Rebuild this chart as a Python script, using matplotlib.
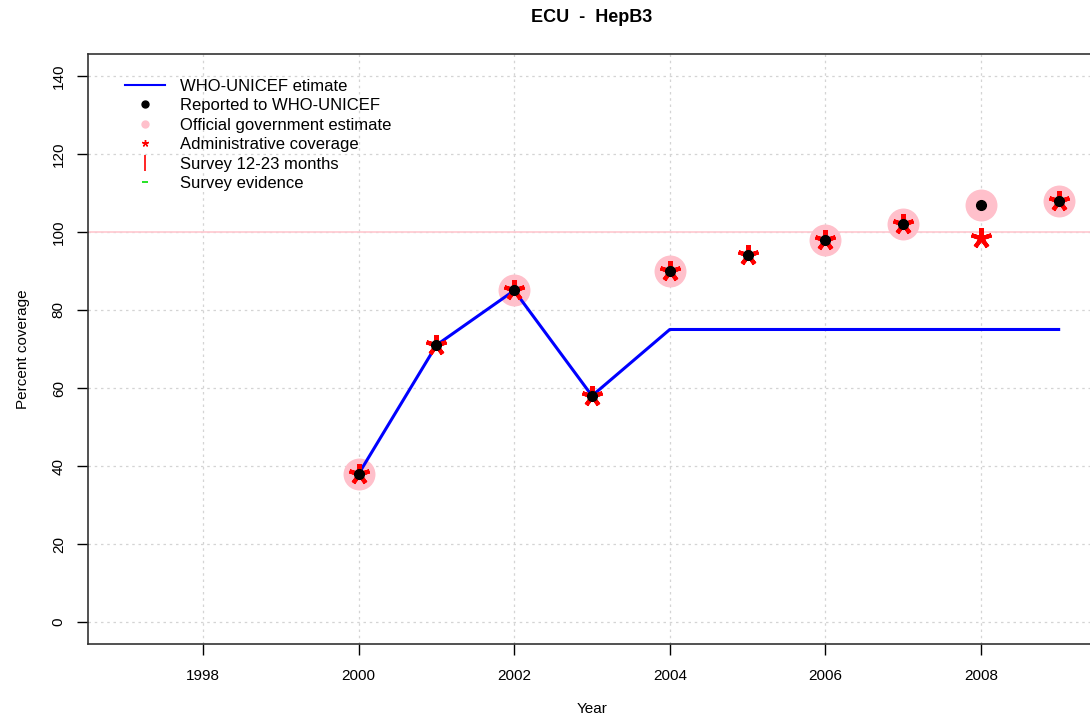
import numpy as np
import matplotlib.pyplot as plt
from matplotlib.lines import Line2D

plt.rcParams['font.family'] = ['Liberation Sans', 'DejaVu Sans']

# WHO-UNICEF estimate
wuenic_years = [2000, 2001, 2002, 2003, 2004, 2005, 2006, 2007, 2008, 2009]
wuenic = [38, 71, 85, 58, 75, 75, 75, 75, 75, 75]

# reported to WHO-UNICEF
rep_years = [2000, 2001, 2002, 2003, 2004, 2005, 2006, 2007, 2008, 2009]
reported = [38, 71, 85, 58, 90, 94, 98, 102, 107, 108]

# official government estimate
gov_years = [2000, 2002, 2004, 2006, 2007, 2008, 2009]
gov = [38, 85, 90, 98, 102, 107, 108]

# administrative coverage
adm_years = [2000, 2001, 2002, 2003, 2004, 2005, 2006, 2007, 2008, 2009]
admin = [38, 71, 85, 58, 90, 94, 98, 102, 98.5, 108]

xticks = [1998, 2000, 2002, 2004, 2006, 2008]
yticks = [0, 20, 40, 60, 80, 100, 120, 140]

fig = plt.figure(figsize=(10.9, 7.17), dpi=100)
ax = fig.add_axes([88/1090, 1 - 644/717, 1008/1090, 590/717])

ax.set_xlim(1996.52, 2009.48)
ax.set_ylim(-5.6, 145.6)

for t in xticks:
    ax.axvline(t, color='#d4d4d4', ls=(0, (2, 3)), lw=0.9, zorder=0)
for t in yticks:
    ax.axhline(t, color='#d4d4d4', ls=(0, (2, 3)), lw=0.9, zorder=0)
ax.axhline(100, color='#ffc8d0', lw=1.2, zorder=1)

ax.plot(gov_years, gov, 'o', color='pink', ms=23, mec='none', zorder=2)
ax.plot(wuenic_years, wuenic, '-', color='blue', lw=2.2, zorder=3)
ax.plot(adm_years, admin, ls='none', marker=(5, 2, 0), color='red', ms=15, mew=3, zorder=4)
ax.plot(rep_years, reported, 'o', color='black', ms=7, zorder=5)

ax.set_xticks(xticks)
ax.set_yticks(yticks)
ax.tick_params(axis='x', length=8, width=1, pad=10, labelsize=11)
ax.tick_params(axis='y', length=8, width=1, pad=8, labelsize=11, labelrotation=90)
for lab in ax.get_yticklabels():
    lab.set_va('center')
for s in ax.spines.values():
    s.set_linewidth(1.2)
    s.set_color('#333333')

fig.text(592/1090, 1 - 709/717, 'Year', ha='center', va='center', fontsize=11)
ax.set_ylabel('Percent coverage', fontsize=11, labelpad=16)
fig.text(592/1090, 1 - 18/717, 'ECU  -  HepB3', ha='center', va='center',
         fontsize=13, fontweight='bold')

handles = [
    Line2D([], [], color='blue', lw=1.5),
    Line2D([], [], ls='none', marker='o', color='black', ms=5),
    Line2D([], [], ls='none', marker='o', color='pink', ms=5),
    Line2D([], [], ls='none', marker=(5, 2, 0), color='red', ms=5, mew=1),
    Line2D([], [], ls='none', marker='|', color='red', ms=11, mew=1.2),
    Line2D([], [], ls='none', marker='_', color='#00dd00', ms=4, mew=1.2),
]
labels = ['WHO-UNICEF etimate', 'Reported to WHO-UNICEF', 'Official government estimate',
          'Administrative coverage', 'Survey 12-23 months', 'Survey evidence']
ax.legend(handles, labels, loc='upper left', bbox_to_anchor=(0.025, 0.978), frameon=False,
          fontsize=12, handlelength=2.4, labelspacing=0.27, handletextpad=0.9,
          borderpad=0.2)

fig.savefig('out.png', dpi=100)
